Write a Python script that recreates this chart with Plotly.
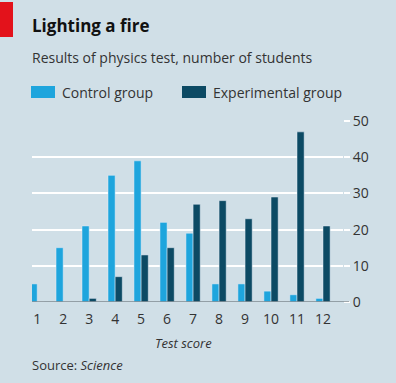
import plotly.graph_objects as go

scores = [1, 2, 3, 4, 5, 6, 7, 8, 9, 10, 11, 12]
control = [5, 15, 21, 35, 39, 22, 19, 5, 5, 3, 2, 1]
experimental = [0, 0, 1, 7, 13, 15, 27, 28, 23, 29, 47, 21]
y_ticks = [0, 10, 20, 30, 40, 50]
series_names = ["Control group", "Experimental group"]

W, H = 396, 383
L, R, T, B = 32, 343, 121, 302
C_CTRL = "#1ea5dd"
C_EXP = "#0c4a64"
BG = "#d0dfe7"
TXT = "#333333"
FONT = "Open Sans"


def px(x):
    return (x - L) / (R - L)


def py(y):
    return (B - y) / (B - T)


fig = go.Figure()
fig.add_trace(go.Bar(x=scores, y=control, name=series_names[0], marker_color=C_CTRL, showlegend=False))
fig.add_trace(go.Bar(x=scores, y=experimental, name=series_names[1], marker_color=C_EXP, showlegend=False))

shapes = [
    dict(type="rect", xref="paper", yref="paper", x0=px(0), x1=px(13), y0=py(37), y1=py(2),
         fillcolor="#e3121b", line_width=0),
    dict(type="rect", xref="paper", yref="paper", x0=px(31), x1=px(55), y0=py(98), y1=py(86),
         fillcolor=C_CTRL, line_width=0),
    dict(type="rect", xref="paper", yref="paper", x0=px(182), x1=px(206), y0=py(98), y1=py(86),
         fillcolor=C_EXP, line_width=0),
    dict(type="line", xref="paper", yref="y", x0=0, x1=1.02, y0=0, y1=0,
         line=dict(color="#7f8a90", width=1.5)),
]

annotations = [
    dict(text="<b>Lighting a fire</b>", x=px(30), y=py(25), xref="paper", yref="paper",
         xanchor="left", yanchor="middle", showarrow=False, font=dict(size=17, color="#111", family=FONT)),
    dict(text="Results of physics test, number of students", x=px(30), y=py(58), xref="paper", yref="paper",
         xanchor="left", yanchor="middle", showarrow=False, font=dict(size=14, color=TXT, family=FONT)),
    dict(text=series_names[0], x=px(60), y=py(92), xref="paper", yref="paper",
         xanchor="left", yanchor="middle", showarrow=False, font=dict(size=14, color=TXT, family=FONT)),
    dict(text=series_names[1], x=px(211), y=py(92), xref="paper", yref="paper",
         xanchor="left", yanchor="middle", showarrow=False, font=dict(size=14, color=TXT, family=FONT)),
    dict(text="<i>Test score</i>", x=px(183), y=py(343), xref="paper", yref="paper",
         xanchor="center", yanchor="middle", showarrow=False, font=dict(size=13, color=TXT, family=FONT)),
    dict(text="Source: <i>Science</i>", x=px(30), y=py(365), xref="paper", yref="paper",
         xanchor="left", yanchor="middle", showarrow=False, font=dict(size=13, color=TXT, family=FONT)),
]

fig.update_layout(
    width=W, height=H,
    margin=dict(l=L, r=W - R, t=T, b=H - B, pad=0),
    paper_bgcolor=BG, plot_bgcolor=BG,
    barmode="group", bargap=0.45, bargroupgap=0,
    shapes=shapes, annotations=annotations,
    font=dict(family=FONT, color=TXT, size=13),
    xaxis=dict(range=[0.8, 12.77], tickmode="array", tickvals=scores, ticktext=[str(s) for s in scores],
               showgrid=False, zeroline=False, showline=False, ticks="", ticklabelstandoff=7,
               tickfont=dict(size=14, color=TXT)),
    yaxis=dict(range=[0, 50], side="right", tickmode="array", tickvals=y_ticks,
               showgrid=True, gridcolor="#ffffff", gridwidth=1.5, zeroline=False, showline=False,
               ticks="outside", ticklen=6, tickcolor="#ffffff", tickwidth=1.5,
               tickfont=dict(size=14, color=TXT)),
)

fig.write_html("out.html", config={"displayModeBar": False},
               post_script="document.body.style.margin='0';")
